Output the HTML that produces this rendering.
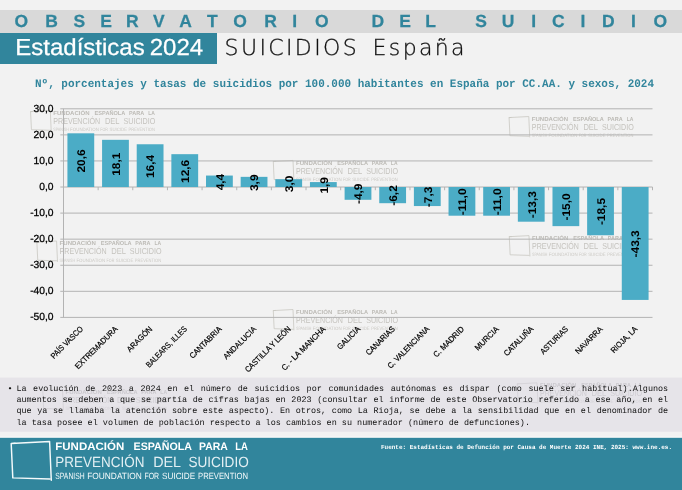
<!DOCTYPE html>
<html lang="es"><head><meta charset="utf-8"><title>Observatorio del Suicidio - Estadísticas 2024</title>
<style>
html,body{margin:0;padding:0;background:#f2f2f2;}
body{width:682px;height:490px;overflow:hidden;position:relative;}
svg{position:absolute;left:0;top:0;display:block;}
.sans{font-family:"Liberation Sans","DejaVu Sans",sans-serif;}
.mono{font-family:"Liberation Mono","DejaVu Sans Mono",monospace;}
.light{font-family:"DejaVu Sans Light","DejaVu Sans","Liberation Sans",sans-serif;font-weight:200;}
.wm text{fill:#cfcfcf;}
</style></head><body>
<svg width="682" height="490" viewBox="0 0 682 490" text-rendering="geometricPrecision">
<rect x="0" y="0" width="682" height="490" fill="#f2f2f2"/>
<rect x="0" y="10" width="682" height="23" fill="#d9d9d9"/>
<rect x="0" y="33" width="217" height="31" fill="#31859c"/>
<rect x="0" y="377.6" width="682" height="54.2" fill="#e6e4e9"/>
<rect x="0" y="436.6" width="682" height="1.4" fill="#fbfbfb"/>
<rect x="0" y="437.8" width="682" height="52.2" fill="#31859c"/>
<text class="sans" x="14.6 45.2 73.5 100.2 126.1 153.0 179.3 207.0 233.3 264.2 292.2 314.9 347.1 371.4 399.3 425.2 453.1 475.3 501.7 531.2 552.1 580.4 602.1 630.9 653.5" y="27.1" font-size="17.5" font-weight="bold" fill="#31859c" stroke="#31859c" stroke-width="0.25">OBSERVATORIO DEL SUICIDIO</text>
<text class="sans" x="15.2" y="55.4" font-size="23.2" fill="#ffffff" stroke="#ffffff" stroke-width="0.25" word-spacing="-1.6" textLength="188" lengthAdjust="spacingAndGlyphs">Estadísticas 2024</text>
<text class="light" x="224.6" y="54.9" font-size="22" fill="#111" stroke="#111" stroke-width="0.3" word-spacing="4.2" textLength="240" lengthAdjust="spacing">SUICIDIOS España</text>
<text class="mono" x="35" y="87.2" font-size="11.5" font-weight="bold" fill="#31859c" textLength="619" lengthAdjust="spacingAndGlyphs">Nº, porcentajes y tasas de suicidios por 100.000 habitantes en España por CC.AA. y sexos, 2024</text>
<g class="sans" transform="translate(30.06 111.00) scale(0.5270)">
<path d="M1.0 1.1 L38.4 -0.9 L40.1 37.9 M38.6 36.6 L2.6 35.5 L1.0 1.1 L5.0 0.9" fill="none" stroke="#c9c7c1" stroke-width="1.50" stroke-linejoin="round" stroke-linecap="round"/>
<text y="7.4" font-size="10.9" fill="#bdbbb6" font-weight="bold"><tspan x="44.1" textLength="68.9" lengthAdjust="spacingAndGlyphs">FUNDACIÓN</tspan> <tspan x="122.4" textLength="58.0" lengthAdjust="spacingAndGlyphs">ESPAÑOLA</tspan> <tspan x="187.8" textLength="28.4" lengthAdjust="spacingAndGlyphs">PARA</tspan> <tspan x="224.1" textLength="12.7" lengthAdjust="spacingAndGlyphs">LA</tspan></text>
<text y="24.3" font-size="16.4" fill="#c5c3be"><tspan x="44.1" textLength="89.1" lengthAdjust="spacingAndGlyphs">PREVENCIÓN</tspan> <tspan x="142.0" textLength="27.3" lengthAdjust="spacingAndGlyphs">DEL</tspan> <tspan x="177.2" textLength="60.4" lengthAdjust="spacingAndGlyphs">SUICIDIO</tspan></text>
<text y="38.3" font-size="9.0" fill="#cccac5"><tspan x="44.1" textLength="29.3" lengthAdjust="spacingAndGlyphs">SPANISH</tspan> <tspan x="76.0" textLength="54.6" lengthAdjust="spacingAndGlyphs">FOUNDATION</tspan> <tspan x="133.2" textLength="14.7" lengthAdjust="spacingAndGlyphs">FOR</tspan> <tspan x="150.8" textLength="33.2" lengthAdjust="spacingAndGlyphs">SUICIDE</tspan> <tspan x="186.9" textLength="49.9" lengthAdjust="spacingAndGlyphs">PREVENTION</tspan></text>
</g>
<g class="sans" transform="translate(272.76 160.90) scale(0.5270)">
<path d="M1.0 1.1 L38.4 -0.9 L40.1 37.9 M38.6 36.6 L2.6 35.5 L1.0 1.1 L5.0 0.9" fill="none" stroke="#c9c7c1" stroke-width="1.50" stroke-linejoin="round" stroke-linecap="round"/>
<text y="7.4" font-size="10.9" fill="#bdbbb6" font-weight="bold"><tspan x="44.1" textLength="68.9" lengthAdjust="spacingAndGlyphs">FUNDACIÓN</tspan> <tspan x="122.4" textLength="58.0" lengthAdjust="spacingAndGlyphs">ESPAÑOLA</tspan> <tspan x="187.8" textLength="28.4" lengthAdjust="spacingAndGlyphs">PARA</tspan> <tspan x="224.1" textLength="12.7" lengthAdjust="spacingAndGlyphs">LA</tspan></text>
<text y="24.3" font-size="16.4" fill="#c5c3be"><tspan x="44.1" textLength="89.1" lengthAdjust="spacingAndGlyphs">PREVENCIÓN</tspan> <tspan x="142.0" textLength="27.3" lengthAdjust="spacingAndGlyphs">DEL</tspan> <tspan x="177.2" textLength="60.4" lengthAdjust="spacingAndGlyphs">SUICIDIO</tspan></text>
<text y="38.3" font-size="9.0" fill="#cccac5"><tspan x="44.1" textLength="29.3" lengthAdjust="spacingAndGlyphs">SPANISH</tspan> <tspan x="76.0" textLength="54.6" lengthAdjust="spacingAndGlyphs">FOUNDATION</tspan> <tspan x="133.2" textLength="14.7" lengthAdjust="spacingAndGlyphs">FOR</tspan> <tspan x="150.8" textLength="33.2" lengthAdjust="spacingAndGlyphs">SUICIDE</tspan> <tspan x="186.9" textLength="49.9" lengthAdjust="spacingAndGlyphs">PREVENTION</tspan></text>
</g>
<g class="sans" transform="translate(508.56 117.00) scale(0.5270)">
<path d="M1.0 1.1 L38.4 -0.9 L40.1 37.9 M38.6 36.6 L2.6 35.5 L1.0 1.1 L5.0 0.9" fill="none" stroke="#c9c7c1" stroke-width="1.50" stroke-linejoin="round" stroke-linecap="round"/>
<text y="7.4" font-size="10.9" fill="#bdbbb6" font-weight="bold"><tspan x="44.1" textLength="68.9" lengthAdjust="spacingAndGlyphs">FUNDACIÓN</tspan> <tspan x="122.4" textLength="58.0" lengthAdjust="spacingAndGlyphs">ESPAÑOLA</tspan> <tspan x="187.8" textLength="28.4" lengthAdjust="spacingAndGlyphs">PARA</tspan> <tspan x="224.1" textLength="12.7" lengthAdjust="spacingAndGlyphs">LA</tspan></text>
<text y="24.3" font-size="16.4" fill="#c5c3be"><tspan x="44.1" textLength="89.1" lengthAdjust="spacingAndGlyphs">PREVENCIÓN</tspan> <tspan x="142.0" textLength="27.3" lengthAdjust="spacingAndGlyphs">DEL</tspan> <tspan x="177.2" textLength="60.4" lengthAdjust="spacingAndGlyphs">SUICIDIO</tspan></text>
<text y="38.3" font-size="9.0" fill="#cccac5"><tspan x="44.1" textLength="29.3" lengthAdjust="spacingAndGlyphs">SPANISH</tspan> <tspan x="76.0" textLength="54.6" lengthAdjust="spacingAndGlyphs">FOUNDATION</tspan> <tspan x="133.2" textLength="14.7" lengthAdjust="spacingAndGlyphs">FOR</tspan> <tspan x="150.8" textLength="33.2" lengthAdjust="spacingAndGlyphs">SUICIDE</tspan> <tspan x="186.9" textLength="49.9" lengthAdjust="spacingAndGlyphs">PREVENTION</tspan></text>
</g>
<g class="sans" transform="translate(36.36 241.50) scale(0.5270)">
<path d="M1.0 1.1 L38.4 -0.9 L40.1 37.9 M38.6 36.6 L2.6 35.5 L1.0 1.1 L5.0 0.9" fill="none" stroke="#c9c7c1" stroke-width="1.50" stroke-linejoin="round" stroke-linecap="round"/>
<text y="7.4" font-size="10.9" fill="#bdbbb6" font-weight="bold"><tspan x="44.1" textLength="68.9" lengthAdjust="spacingAndGlyphs">FUNDACIÓN</tspan> <tspan x="122.4" textLength="58.0" lengthAdjust="spacingAndGlyphs">ESPAÑOLA</tspan> <tspan x="187.8" textLength="28.4" lengthAdjust="spacingAndGlyphs">PARA</tspan> <tspan x="224.1" textLength="12.7" lengthAdjust="spacingAndGlyphs">LA</tspan></text>
<text y="24.3" font-size="16.4" fill="#c5c3be"><tspan x="44.1" textLength="89.1" lengthAdjust="spacingAndGlyphs">PREVENCIÓN</tspan> <tspan x="142.0" textLength="27.3" lengthAdjust="spacingAndGlyphs">DEL</tspan> <tspan x="177.2" textLength="60.4" lengthAdjust="spacingAndGlyphs">SUICIDIO</tspan></text>
<text y="38.3" font-size="9.0" fill="#cccac5"><tspan x="44.1" textLength="29.3" lengthAdjust="spacingAndGlyphs">SPANISH</tspan> <tspan x="76.0" textLength="54.6" lengthAdjust="spacingAndGlyphs">FOUNDATION</tspan> <tspan x="133.2" textLength="14.7" lengthAdjust="spacingAndGlyphs">FOR</tspan> <tspan x="150.8" textLength="33.2" lengthAdjust="spacingAndGlyphs">SUICIDE</tspan> <tspan x="186.9" textLength="49.9" lengthAdjust="spacingAndGlyphs">PREVENTION</tspan></text>
</g>
<g class="sans" transform="translate(272.76 310.00) scale(0.5270)">
<path d="M1.0 1.1 L38.4 -0.9 L40.1 37.9 M38.6 36.6 L2.6 35.5 L1.0 1.1 L5.0 0.9" fill="none" stroke="#c9c7c1" stroke-width="1.50" stroke-linejoin="round" stroke-linecap="round"/>
<text y="7.4" font-size="10.9" fill="#bdbbb6" font-weight="bold"><tspan x="44.1" textLength="68.9" lengthAdjust="spacingAndGlyphs">FUNDACIÓN</tspan> <tspan x="122.4" textLength="58.0" lengthAdjust="spacingAndGlyphs">ESPAÑOLA</tspan> <tspan x="187.8" textLength="28.4" lengthAdjust="spacingAndGlyphs">PARA</tspan> <tspan x="224.1" textLength="12.7" lengthAdjust="spacingAndGlyphs">LA</tspan></text>
<text y="24.3" font-size="16.4" fill="#c5c3be"><tspan x="44.1" textLength="89.1" lengthAdjust="spacingAndGlyphs">PREVENCIÓN</tspan> <tspan x="142.0" textLength="27.3" lengthAdjust="spacingAndGlyphs">DEL</tspan> <tspan x="177.2" textLength="60.4" lengthAdjust="spacingAndGlyphs">SUICIDIO</tspan></text>
<text y="38.3" font-size="9.0" fill="#cccac5"><tspan x="44.1" textLength="29.3" lengthAdjust="spacingAndGlyphs">SPANISH</tspan> <tspan x="76.0" textLength="54.6" lengthAdjust="spacingAndGlyphs">FOUNDATION</tspan> <tspan x="133.2" textLength="14.7" lengthAdjust="spacingAndGlyphs">FOR</tspan> <tspan x="150.8" textLength="33.2" lengthAdjust="spacingAndGlyphs">SUICIDE</tspan> <tspan x="186.9" textLength="49.9" lengthAdjust="spacingAndGlyphs">PREVENTION</tspan></text>
</g>
<g class="sans" transform="translate(508.76 236.10) scale(0.5270)">
<path d="M1.0 1.1 L38.4 -0.9 L40.1 37.9 M38.6 36.6 L2.6 35.5 L1.0 1.1 L5.0 0.9" fill="none" stroke="#c9c7c1" stroke-width="1.50" stroke-linejoin="round" stroke-linecap="round"/>
<text y="7.4" font-size="10.9" fill="#bdbbb6" font-weight="bold"><tspan x="44.1" textLength="68.9" lengthAdjust="spacingAndGlyphs">FUNDACIÓN</tspan> <tspan x="122.4" textLength="58.0" lengthAdjust="spacingAndGlyphs">ESPAÑOLA</tspan> <tspan x="187.8" textLength="28.4" lengthAdjust="spacingAndGlyphs">PARA</tspan> <tspan x="224.1" textLength="12.7" lengthAdjust="spacingAndGlyphs">LA</tspan></text>
<text y="24.3" font-size="16.4" fill="#c5c3be"><tspan x="44.1" textLength="89.1" lengthAdjust="spacingAndGlyphs">PREVENCIÓN</tspan> <tspan x="142.0" textLength="27.3" lengthAdjust="spacingAndGlyphs">DEL</tspan> <tspan x="177.2" textLength="60.4" lengthAdjust="spacingAndGlyphs">SUICIDIO</tspan></text>
<text y="38.3" font-size="9.0" fill="#cccac5"><tspan x="44.1" textLength="29.3" lengthAdjust="spacingAndGlyphs">SPANISH</tspan> <tspan x="76.0" textLength="54.6" lengthAdjust="spacingAndGlyphs">FOUNDATION</tspan> <tspan x="133.2" textLength="14.7" lengthAdjust="spacingAndGlyphs">FOR</tspan> <tspan x="150.8" textLength="33.2" lengthAdjust="spacingAndGlyphs">SUICIDE</tspan> <tspan x="186.9" textLength="49.9" lengthAdjust="spacingAndGlyphs">PREVENTION</tspan></text>
</g>
<g stroke="#b3b3b3" stroke-width="1" fill="none" shape-rendering="auto">
<line x1="60.30" y1="108.80" x2="652.50" y2="108.80"/>
<line x1="60.30" y1="134.88" x2="652.50" y2="134.88"/>
<line x1="60.30" y1="160.95" x2="652.50" y2="160.95"/>
<line x1="60.30" y1="187.02" x2="652.50" y2="187.02"/>
<line x1="60.30" y1="213.10" x2="652.50" y2="213.10"/>
<line x1="60.30" y1="239.17" x2="652.50" y2="239.17"/>
<line x1="60.30" y1="265.25" x2="652.50" y2="265.25"/>
<line x1="60.30" y1="291.32" x2="652.50" y2="291.32"/>
<line x1="60.30" y1="317.40" x2="652.50" y2="317.40"/>
<line x1="63.50" y1="108.80" x2="63.50" y2="317.40"/>
<line x1="63.50" y1="187.02" x2="63.50" y2="190.22"/>
<line x1="98.15" y1="187.02" x2="98.15" y2="190.22"/>
<line x1="132.79" y1="187.02" x2="132.79" y2="190.22"/>
<line x1="167.44" y1="187.02" x2="167.44" y2="190.22"/>
<line x1="202.09" y1="187.02" x2="202.09" y2="190.22"/>
<line x1="236.74" y1="187.02" x2="236.74" y2="190.22"/>
<line x1="271.38" y1="187.02" x2="271.38" y2="190.22"/>
<line x1="306.03" y1="187.02" x2="306.03" y2="190.22"/>
<line x1="340.68" y1="187.02" x2="340.68" y2="190.22"/>
<line x1="375.32" y1="187.02" x2="375.32" y2="190.22"/>
<line x1="409.97" y1="187.02" x2="409.97" y2="190.22"/>
<line x1="444.62" y1="187.02" x2="444.62" y2="190.22"/>
<line x1="479.26" y1="187.02" x2="479.26" y2="190.22"/>
<line x1="513.91" y1="187.02" x2="513.91" y2="190.22"/>
<line x1="548.56" y1="187.02" x2="548.56" y2="190.22"/>
<line x1="583.21" y1="187.02" x2="583.21" y2="190.22"/>
<line x1="617.85" y1="187.02" x2="617.85" y2="190.22"/>
<line x1="652.50" y1="187.02" x2="652.50" y2="190.22"/>
</g>
<g fill="#4bacc6">
<rect x="67.42" y="133.31" width="26.80" height="53.71"/>
<rect x="102.07" y="139.83" width="26.80" height="47.20"/>
<rect x="136.72" y="144.26" width="26.80" height="42.76"/>
<rect x="171.36" y="154.17" width="26.80" height="32.85"/>
<rect x="206.01" y="175.55" width="26.80" height="11.47"/>
<rect x="240.66" y="176.86" width="26.80" height="10.17"/>
<rect x="275.31" y="179.20" width="26.80" height="7.82"/>
<rect x="309.95" y="182.07" width="26.80" height="4.95"/>
<rect x="344.60" y="187.02" width="26.80" height="12.78"/>
<rect x="379.25" y="187.02" width="26.80" height="16.17"/>
<rect x="413.89" y="187.02" width="26.80" height="19.03"/>
<rect x="448.54" y="187.02" width="26.80" height="28.68"/>
<rect x="483.19" y="187.02" width="26.80" height="28.68"/>
<rect x="517.84" y="187.02" width="26.80" height="34.68"/>
<rect x="552.48" y="187.02" width="26.80" height="39.11"/>
<rect x="587.13" y="187.02" width="26.80" height="48.24"/>
<rect x="621.78" y="187.02" width="26.80" height="112.90"/>
</g>
<g class="sans" font-size="10.3" fill="#000" text-anchor="end" stroke="#000" stroke-width="0.28">
<text x="53.6" y="111.70" textLength="20.00" lengthAdjust="spacingAndGlyphs">30,0</text>
<text x="53.6" y="137.78" textLength="20.00" lengthAdjust="spacingAndGlyphs">20,0</text>
<text x="53.6" y="163.85" textLength="20.00" lengthAdjust="spacingAndGlyphs">10,0</text>
<text x="53.6" y="189.92" textLength="14.28" lengthAdjust="spacingAndGlyphs">0,0</text>
<text x="53.6" y="216.00" textLength="23.46" lengthAdjust="spacingAndGlyphs">-10,0</text>
<text x="53.6" y="242.07" textLength="23.46" lengthAdjust="spacingAndGlyphs">-20,0</text>
<text x="53.6" y="268.15" textLength="23.46" lengthAdjust="spacingAndGlyphs">-30,0</text>
<text x="53.6" y="294.22" textLength="23.46" lengthAdjust="spacingAndGlyphs">-40,0</text>
<text x="53.6" y="320.30" textLength="23.46" lengthAdjust="spacingAndGlyphs">-50,0</text>
</g>
<g class="sans" font-size="11.2" font-weight="bold" fill="#000" text-anchor="middle">
<text transform="translate(85.12 160.97) rotate(-90)" x="0" y="0" textLength="23.12" lengthAdjust="spacingAndGlyphs">20,6</text>
<text transform="translate(119.77 164.23) rotate(-90)" x="0" y="0" textLength="23.12" lengthAdjust="spacingAndGlyphs">18,1</text>
<text transform="translate(154.42 166.44) rotate(-90)" x="0" y="0" textLength="23.12" lengthAdjust="spacingAndGlyphs">16,4</text>
<text transform="translate(189.06 171.40) rotate(-90)" x="0" y="0" textLength="23.12" lengthAdjust="spacingAndGlyphs">12,6</text>
<text transform="translate(223.71 182.09) rotate(-90)" x="0" y="0" textLength="16.53" lengthAdjust="spacingAndGlyphs">4,4</text>
<text transform="translate(258.36 182.74) rotate(-90)" x="0" y="0" textLength="16.53" lengthAdjust="spacingAndGlyphs">3,9</text>
<text transform="translate(293.01 183.91) rotate(-90)" x="0" y="0" textLength="16.53" lengthAdjust="spacingAndGlyphs">3,0</text>
<text transform="translate(327.65 185.35) rotate(-90)" x="0" y="0" textLength="16.53" lengthAdjust="spacingAndGlyphs">1,9</text>
<text transform="translate(362.30 193.81) rotate(-90)" x="0" y="0" textLength="20.51" lengthAdjust="spacingAndGlyphs">-4,9</text>
<text transform="translate(396.95 195.51) rotate(-90)" x="0" y="0" textLength="20.51" lengthAdjust="spacingAndGlyphs">-6,2</text>
<text transform="translate(431.59 196.94) rotate(-90)" x="0" y="0" textLength="20.51" lengthAdjust="spacingAndGlyphs">-7,3</text>
<text transform="translate(466.24 201.77) rotate(-90)" x="0" y="0" textLength="27.10" lengthAdjust="spacingAndGlyphs">-11,0</text>
<text transform="translate(500.89 201.77) rotate(-90)" x="0" y="0" textLength="27.10" lengthAdjust="spacingAndGlyphs">-11,0</text>
<text transform="translate(535.54 204.76) rotate(-90)" x="0" y="0" textLength="27.10" lengthAdjust="spacingAndGlyphs">-13,3</text>
<text transform="translate(570.18 206.98) rotate(-90)" x="0" y="0" textLength="27.10" lengthAdjust="spacingAndGlyphs">-15,0</text>
<text transform="translate(604.83 211.54) rotate(-90)" x="0" y="0" textLength="27.10" lengthAdjust="spacingAndGlyphs">-18,5</text>
<text transform="translate(639.48 243.88) rotate(-90)" x="0" y="0" textLength="27.10" lengthAdjust="spacingAndGlyphs">-43,3</text>
</g>
<g class="sans" font-size="8.1" fill="#000" stroke="#000" stroke-width="0.2" text-anchor="end">
<text transform="translate(83.52 329.60) rotate(-45)" x="0" y="0" textLength="41.87" lengthAdjust="spacingAndGlyphs">PAÍS VASCO</text>
<text transform="translate(118.17 329.60) rotate(-45)" x="0" y="0" textLength="56.41" lengthAdjust="spacingAndGlyphs">EXTREMADURA</text>
<text transform="translate(152.82 329.60) rotate(-45)" x="0" y="0" textLength="32.32" lengthAdjust="spacingAndGlyphs">ARAGÓN</text>
<text transform="translate(187.46 329.60) rotate(-45)" x="0" y="0" textLength="54.16" lengthAdjust="spacingAndGlyphs">BALEARS, ILLES</text>
<text transform="translate(222.11 329.60) rotate(-45)" x="0" y="0" textLength="41.50" lengthAdjust="spacingAndGlyphs">CANTABRIA</text>
<text transform="translate(256.76 329.60) rotate(-45)" x="0" y="0" textLength="42.79" lengthAdjust="spacingAndGlyphs">ANDALUCIA</text>
<text transform="translate(291.41 329.60) rotate(-45)" x="0" y="0" textLength="61.09" lengthAdjust="spacingAndGlyphs">CASTILLA Y LEÓN</text>
<text transform="translate(326.05 329.60) rotate(-45)" x="0" y="0" textLength="58.59" lengthAdjust="spacingAndGlyphs">C. - LA MANCHA</text>
<text transform="translate(360.70 329.60) rotate(-45)" x="0" y="0" textLength="28.89" lengthAdjust="spacingAndGlyphs">GALICIA</text>
<text transform="translate(395.35 329.60) rotate(-45)" x="0" y="0" textLength="37.10" lengthAdjust="spacingAndGlyphs">CANARIAS</text>
<text transform="translate(429.99 329.60) rotate(-45)" x="0" y="0" textLength="55.65" lengthAdjust="spacingAndGlyphs">C. VALENCIANA</text>
<text transform="translate(464.64 329.60) rotate(-45)" x="0" y="0" textLength="39.79" lengthAdjust="spacingAndGlyphs">C. MADRID</text>
<text transform="translate(499.29 329.60) rotate(-45)" x="0" y="0" textLength="30.21" lengthAdjust="spacingAndGlyphs">MURCIA</text>
<text transform="translate(533.94 329.60) rotate(-45)" x="0" y="0" textLength="38.15" lengthAdjust="spacingAndGlyphs">CATALUÑA</text>
<text transform="translate(568.58 329.60) rotate(-45)" x="0" y="0" textLength="35.54" lengthAdjust="spacingAndGlyphs">ASTURIAS</text>
<text transform="translate(603.23 329.60) rotate(-45)" x="0" y="0" textLength="35.10" lengthAdjust="spacingAndGlyphs">NAVARRA</text>
<text transform="translate(637.88 329.60) rotate(-45)" x="0" y="0" textLength="33.88" lengthAdjust="spacingAndGlyphs">RIOJA, LA</text>
</g>
<g class="sans" transform="translate(42.26 389.80) scale(0.5270)">
<path d="M1.0 1.1 L38.4 -0.9 L40.1 37.9 M38.6 36.6 L2.6 35.5 L1.0 1.1 L5.0 0.9" fill="none" stroke="#d2d0d5" stroke-width="1.50" stroke-linejoin="round" stroke-linecap="round"/>
<text y="7.4" font-size="10.9" fill="#cbc9ce" font-weight="bold"><tspan x="44.1" textLength="68.9" lengthAdjust="spacingAndGlyphs">FUNDACIÓN</tspan> <tspan x="122.4" textLength="58.0" lengthAdjust="spacingAndGlyphs">ESPAÑOLA</tspan> <tspan x="187.8" textLength="28.4" lengthAdjust="spacingAndGlyphs">PARA</tspan> <tspan x="224.1" textLength="12.7" lengthAdjust="spacingAndGlyphs">LA</tspan></text>
<text y="24.3" font-size="16.4" fill="#cfcdd2"><tspan x="44.1" textLength="89.1" lengthAdjust="spacingAndGlyphs">PREVENCIÓN</tspan> <tspan x="142.0" textLength="27.3" lengthAdjust="spacingAndGlyphs">DEL</tspan> <tspan x="177.2" textLength="60.4" lengthAdjust="spacingAndGlyphs">SUICIDIO</tspan></text>
<text y="38.3" font-size="9.0" fill="#d5d3d8"><tspan x="44.1" textLength="29.3" lengthAdjust="spacingAndGlyphs">SPANISH</tspan> <tspan x="76.0" textLength="54.6" lengthAdjust="spacingAndGlyphs">FOUNDATION</tspan> <tspan x="133.2" textLength="14.7" lengthAdjust="spacingAndGlyphs">FOR</tspan> <tspan x="150.8" textLength="33.2" lengthAdjust="spacingAndGlyphs">SUICIDE</tspan> <tspan x="186.9" textLength="49.9" lengthAdjust="spacingAndGlyphs">PREVENTION</tspan></text>
</g>
<g class="sans" transform="translate(516.76 383.30) scale(0.5270)">
<path d="M1.0 1.1 L38.4 -0.9 L40.1 37.9 M38.6 36.6 L2.6 35.5 L1.0 1.1 L5.0 0.9" fill="none" stroke="#d2d0d5" stroke-width="1.50" stroke-linejoin="round" stroke-linecap="round"/>
<text y="7.4" font-size="10.9" fill="#cbc9ce" font-weight="bold"><tspan x="44.1" textLength="68.9" lengthAdjust="spacingAndGlyphs">FUNDACIÓN</tspan> <tspan x="122.4" textLength="58.0" lengthAdjust="spacingAndGlyphs">ESPAÑOLA</tspan> <tspan x="187.8" textLength="28.4" lengthAdjust="spacingAndGlyphs">PARA</tspan> <tspan x="224.1" textLength="12.7" lengthAdjust="spacingAndGlyphs">LA</tspan></text>
<text y="24.3" font-size="16.4" fill="#cfcdd2"><tspan x="44.1" textLength="89.1" lengthAdjust="spacingAndGlyphs">PREVENCIÓN</tspan> <tspan x="142.0" textLength="27.3" lengthAdjust="spacingAndGlyphs">DEL</tspan> <tspan x="177.2" textLength="60.4" lengthAdjust="spacingAndGlyphs">SUICIDIO</tspan></text>
<text y="38.3" font-size="9.0" fill="#d5d3d8"><tspan x="44.1" textLength="29.3" lengthAdjust="spacingAndGlyphs">SPANISH</tspan> <tspan x="76.0" textLength="54.6" lengthAdjust="spacingAndGlyphs">FOUNDATION</tspan> <tspan x="133.2" textLength="14.7" lengthAdjust="spacingAndGlyphs">FOR</tspan> <tspan x="150.8" textLength="33.2" lengthAdjust="spacingAndGlyphs">SUICIDE</tspan> <tspan x="186.9" textLength="49.9" lengthAdjust="spacingAndGlyphs">PREVENTION</tspan></text>
</g>
<g class="mono" font-size="8.45" fill="#111" style="white-space:pre">
<text x="7.6" y="391">•</text>
<text x="16.4" y="391.00" word-spacing="1.526">La evolución de 2023 a 2024 en el número de suicidios por comunidades autónomas es dispar (como suele ser habitual).Algunos</text>
<text x="16.4" y="402.20" word-spacing="0.599">aumentos se deben a que se partía de cifras bajas en 2023 (consultar el informe de este Observatorio referido a ese año, en el</text>
<text x="16.4" y="413.40" word-spacing="0.599">que ya se llamaba la atención sobre este aspecto). En otros, como La Rioja, se debe a la sensibilidad que en el denominador de</text>
<text x="16.4" y="424.60" textLength="513.6" lengthAdjust="spacing">la tasa posee el volumen de población respecto a los cambios en su numerador (número de defunciones).</text>
</g>
<g class="sans" transform="translate(11.20 442.40) scale(1.0000)">
<path d="M0.0 1.1 L38.4 -0.9 L40.1 37.9 M38.6 36.6 L1.6 35.5 L0.0 1.1 L4.0 0.9" fill="none" stroke="#f4fafb" stroke-width="1.45" stroke-linejoin="round" stroke-linecap="round"/>
<text y="7.4" font-size="10.9" fill="#ffffff" font-weight="bold"><tspan x="44.1" textLength="68.9" lengthAdjust="spacingAndGlyphs">FUNDACIÓN</tspan> <tspan x="122.4" textLength="58.0" lengthAdjust="spacingAndGlyphs">ESPAÑOLA</tspan> <tspan x="187.8" textLength="28.4" lengthAdjust="spacingAndGlyphs">PARA</tspan> <tspan x="224.1" textLength="12.7" lengthAdjust="spacingAndGlyphs">LA</tspan></text>
<text y="24.3" font-size="14.8" fill="#e2eff3"><tspan x="44.1" textLength="89.1" lengthAdjust="spacingAndGlyphs">PREVENCIÓN</tspan> <tspan x="142.0" textLength="27.3" lengthAdjust="spacingAndGlyphs">DEL</tspan> <tspan x="177.2" textLength="60.4" lengthAdjust="spacingAndGlyphs">SUICIDIO</tspan></text>
<text y="36.9" font-size="9.0" fill="#f4fafb"><tspan x="44.1" textLength="29.3" lengthAdjust="spacingAndGlyphs">SPANISH</tspan> <tspan x="76.0" textLength="54.6" lengthAdjust="spacingAndGlyphs">FOUNDATION</tspan> <tspan x="133.2" textLength="14.7" lengthAdjust="spacingAndGlyphs">FOR</tspan> <tspan x="150.8" textLength="33.2" lengthAdjust="spacingAndGlyphs">SUICIDE</tspan> <tspan x="186.9" textLength="49.9" lengthAdjust="spacingAndGlyphs">PREVENTION</tspan></text>
</g>
<text class="mono" x="381" y="449.2" font-size="6.2" font-weight="bold" fill="#ffffff" textLength="291" lengthAdjust="spacingAndGlyphs">Fuente: Estadísticas de Defunción por Causa de Muerte 2024 INE, 2025: www.ine.es.</text>
</svg>
</body></html>
